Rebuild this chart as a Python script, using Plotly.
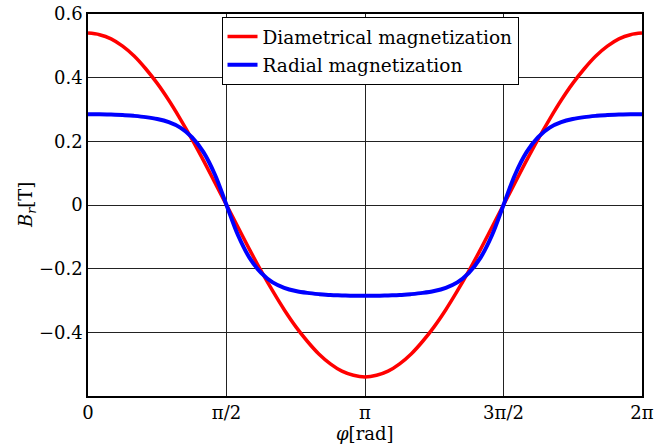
import numpy as np
import plotly.graph_objects as go

# angle samples in degrees (7.5 deg steps)
phi_deg = [i * 7.5 for i in range(49)]

diametrical = [0.540, 0.535, 0.522, 0.499, 0.468, 0.428, 0.382, 0.329, 0.270, 0.207, 0.140, 0.070,
               0.000, -0.070, -0.140, -0.207, -0.270, -0.329, -0.382, -0.428, -0.468, -0.499, -0.522, -0.535,
               -0.540, -0.535, -0.522, -0.499, -0.468, -0.428, -0.382, -0.329, -0.270, -0.207, -0.140, -0.070,
               0.000, 0.070, 0.140, 0.207, 0.270, 0.329, 0.382, 0.428, 0.468, 0.499, 0.522, 0.535, 0.540]

radial = [0.285, 0.285, 0.284, 0.283, 0.280, 0.276, 0.270, 0.260, 0.243, 0.213, 0.166, 0.095,
          0.000, -0.095, -0.166, -0.213, -0.243, -0.260, -0.270, -0.276, -0.280, -0.283, -0.284, -0.285,
          -0.285, -0.285, -0.284, -0.283, -0.280, -0.276, -0.270, -0.260, -0.243, -0.213, -0.166, -0.095,
          0.000, 0.095, 0.166, 0.213, 0.243, 0.260, 0.270, 0.276, 0.280, 0.283, 0.284, 0.285, 0.285]

x_tickvals = [0, np.pi / 2, np.pi, 3 * np.pi / 2, 2 * np.pi]
x_ticktext = ["0", "π/2", "π", "3π/2", "2π"]
y_tickvals = [-0.6, -0.4, -0.2, 0, 0.2, 0.4, 0.6]
y_ticktext = ["", "−0.4", "−0.2", "0", "0.2", "0.4", "0.6"]

phi = np.radians(phi_deg)

FONT = "DejaVu Serif"

fig = go.Figure()
fig.add_trace(go.Scatter(x=phi, y=diametrical, mode="lines", name="Diametrical magnetization",
                         legendgroup="d",
                         line=dict(color="#ff0000", width=3.5, shape="spline")))
fig.add_trace(go.Scatter(x=phi, y=radial, mode="lines", name="Radial magnetization",
                         legendgroup="r",
                         line=dict(color="#0000ff", width=4, shape="spline")))

fig.update_layout(
    width=670, height=447,
    margin=dict(l=88, r=28, t=14, b=51),
    paper_bgcolor="white", plot_bgcolor="white",
    font=dict(family=FONT, size=18, color="black"),
    showlegend=True,
    legend=dict(x=0.241, y=0.992, xanchor="left", yanchor="top",
                bgcolor="white", bordercolor="black", borderwidth=1,
                font=dict(family=FONT, size=18.5), itemwidth=30,
                tracegroupgap=1),
    xaxis=dict(range=[0, 2 * np.pi], tickvals=x_tickvals, ticktext=x_ticktext,
               showgrid=True, gridcolor="#222222", gridwidth=1,
               showline=True, linecolor="black", linewidth=1.5, mirror=True,
               zeroline=False, ticks="", tickfont=dict(family=FONT, size=18),
               automargin=False, ticklabeloverflow="allow"),
    yaxis=dict(range=[-0.6, 0.6], tickvals=y_tickvals, ticktext=y_ticktext,
               showgrid=True, gridcolor="#222222", gridwidth=1,
               showline=True, linecolor="black", linewidth=1.5, mirror=True,
               zeroline=False, ticks="", tickfont=dict(family=FONT, size=18),
               automargin=False, ticklabeloverflow="allow"),
    annotations=[
        dict(text="<i>φ</i>[rad]", xref="paper", yref="paper", x=0.5, y=-0.065,
             xanchor="center", yanchor="top", showarrow=False,
             font=dict(family=FONT, size=18)),
        dict(text="<i>B<sub>r</sub></i>[T]", xref="paper", yref="paper", x=-0.11, y=0.5,
             xanchor="center", yanchor="middle", textangle=-90, showarrow=False,
             font=dict(family=FONT, size=18)),
    ],
)

fig.write_html("out.html", config={"displayModeBar": False},
               post_script="document.body.style.margin='0';")
